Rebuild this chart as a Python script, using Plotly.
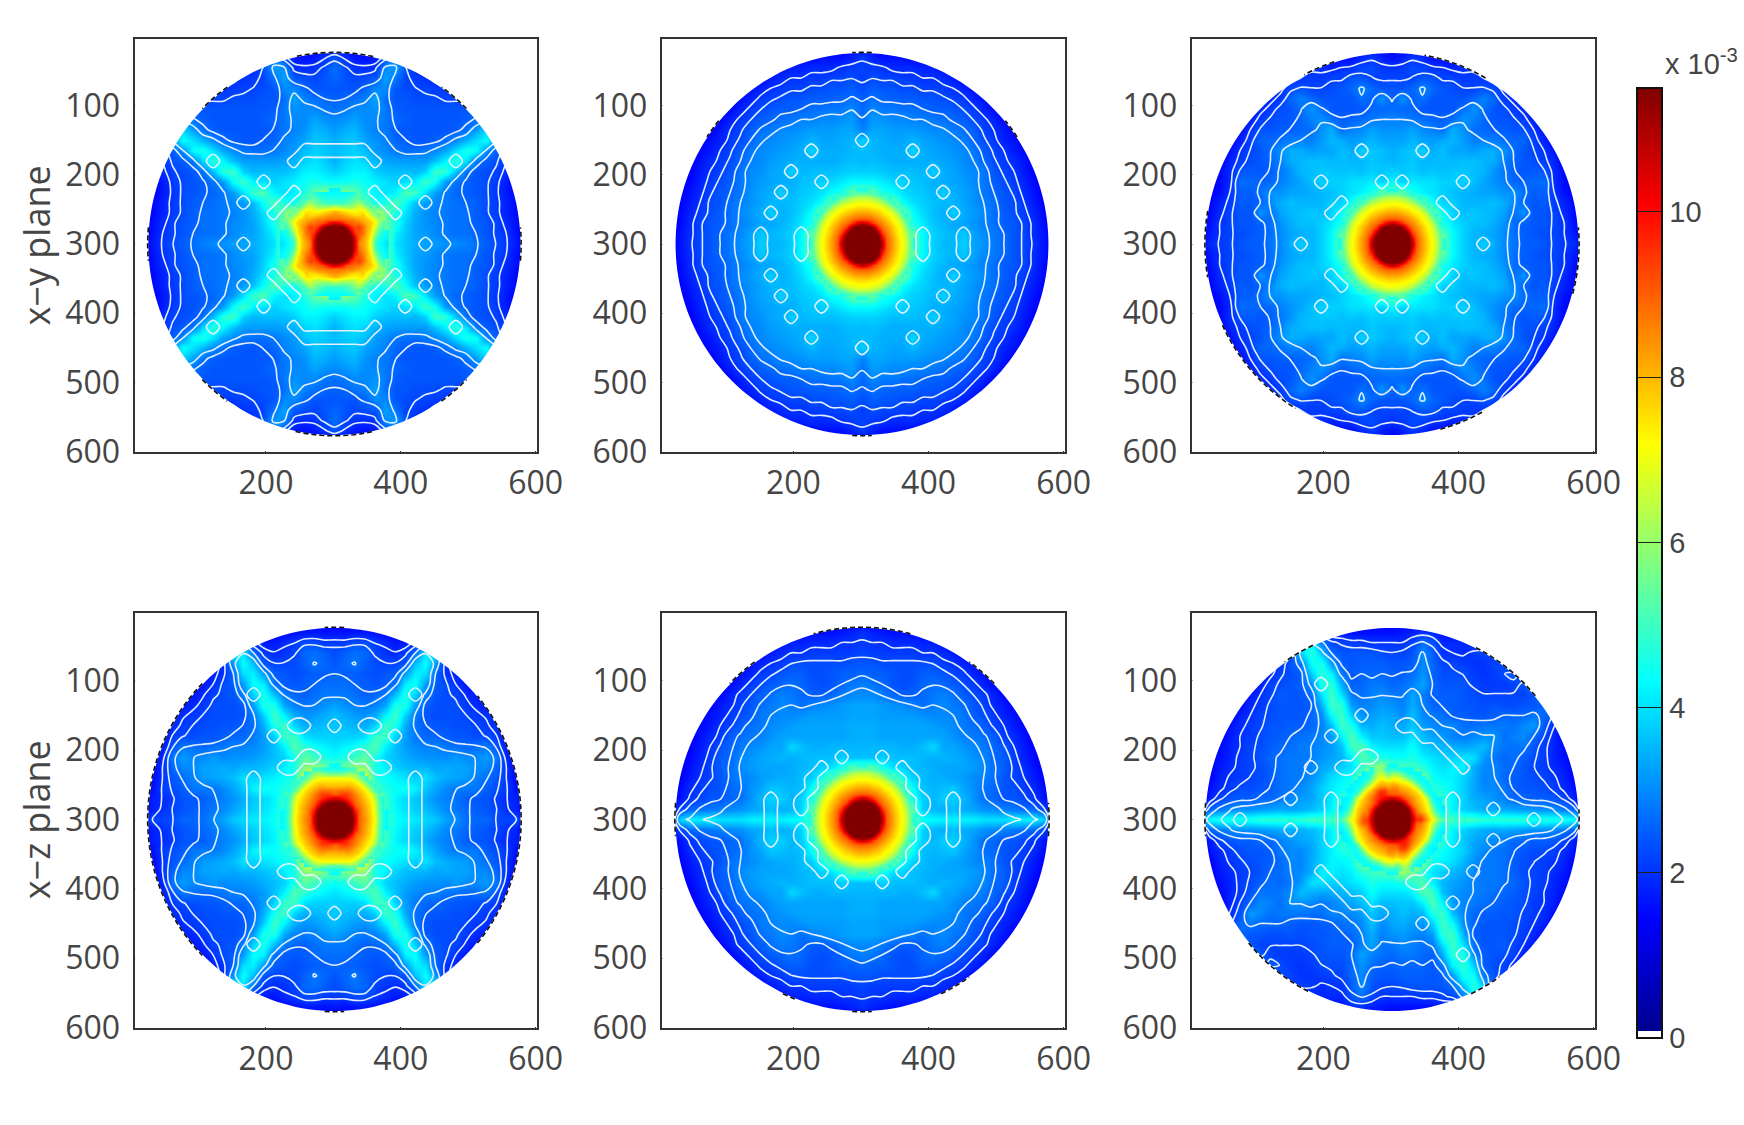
import plotly.graph_objects as go
import numpy as np
import math

# Values are in units of 1e-4, read on a 15-unit grid from the disc centre outwards (j=row, k=column).
# Each table holds a quadrant; rows stop once they are outside the disc.
xy_a = [
[118,118,105,80,74,56,40,37,34,33,32,31,30,29,27,25,23,21,17,14],
[118,118,100,82,72,58,42,37,33,32,30,28,27,27,26,24,22,20,16,14],
[105,100,95,80,72,54,46,38,33,31,30,28,27,27,25,24,22,19,16,14],
[80,82,80,80,66,56,46,40,34,31,29,28,27,27,25,23,21,18,15,14],
[74,72,70,55,44,46,52,44,36,32,30,28,27,26,25,23,21,18,15,14],
[56,58,54,46,42,40,42,52,50,40,32,28,26,25,24,23,20,17,14,14],
[44,44,46,44,42,40,38,40,42,50,44,32,27,25,24,23,21,17,14,14],
[38,40,42,42,38,36,36,36,35,38,50,48,36,27,24,23,22,19,14,14],
[34,38,40,38,35,33,32,32,32,32,36,42,48,40,28,25,23,20,15,14],
[36,37,38,36,32,30,28,27,27,28,30,33,40,46,44,30,25,21,16,14],
[34,36,37,33,31,29,26,25,24,24,25,27,30,35,40,44,32,24,17,14],
[32,34,35,31,29,28,25,24,24,24,24,24,25,27,32,38,42,36,20,14],
[30,31,33,30,30,28,26,25,24,24,24,24,24,25,27,30,34,36,24,14],
[27,28,30,30,31,28,25,24,24,24,24,24,24,24,24,25,26,24,18,14],
[25,26,27,29,33,27,24,24,23,23,23,22,22,22,22,21,20,17,14],
[24,24,24,26,30,30,24,23,22,22,21,21,20,20,19,17,14],
[26,24,22,23,24,33,28,22,21,20,19,18,17,16,14],
[27,23,20,19,20,30,32,24,19,17,16,15,14],
[24,20,17,16,17,24,30,24,16,14],
[15,14],
]
xy_b = [
[118,118,105,84,76,56,43,38,35,35,38,33,31,28,26,24,22,20,16,14],
[118,118,100,82,74,54,43,38,36,35,37,33,30,28,26,24,22,19,16,14],
[105,100,90,80,70,46,41,37,35,33,33,31,29,27,25,24,22,19,15,14],
[84,82,80,76,58,44,39,36,34,38,34,32,30,27,25,23,21,18,15,14],
[76,74,70,58,44,40,38,36,35,35,33,31,29,27,24,23,20,17,14,14],
[56,54,46,44,40,38,37,35,38,34,33,31,28,26,24,22,19,16,14,14],
[43,43,41,39,38,37,36,34,34,33,32,30,28,25,23,21,18,15,14,14],
[38,38,37,36,36,36,35,38,34,33,31,30,28,24,22,20,17,14,14,14],
[35,36,35,34,34,34,34,34,33,32,30,29,26,23,21,19,16,14],
[36,35,34,34,34,39,34,33,32,31,30,28,25,22,20,17,15,14],
[38,35,34,33,33,35,33,32,31,30,29,26,23,21,18,16,14],
[29,33,33,32,32,32,31,30,30,28,27,25,22,20,17,14],
[27,32,31,30,30,29,29,28,27,26,25,23,21,18,15,14],
[26,30,28,28,27,27,26,25,25,24,23,21,18,15,14],
[25,27,26,25,25,25,24,24,23,22,21,18,16,14],
[23,25,24,24,23,23,22,22,21,20,18,16,14],
[21,23,22,22,21,21,20,20,19,17,15,14],
[22,21,20,19,19,19,18,18,16,15,14],
[21,18,16,16,16,15,15,14],
[14],
]
xy_c = [
[118,118,105,86,76,56,43,38,35,38,34,30,28,25,25,24,22,21,19,14],
[118,118,102,84,74,54,43,38,35,34,33,30,27,25,24,23,22,20,17,14],
[105,102,92,80,70,46,41,38,36,36,34,31,27,25,24,24,22,20,16,14],
[86,84,80,76,58,44,38,36,37,36,35,33,27,31,24,24,22,19,15,14],
[76,74,70,58,44,38,38,35,35,35,36,34,30,26,24,25,21,18,15,14],
[56,54,46,42,40,38,36,35,34,33,33,31,31,27,25,25,20,16,14,14],
[43,38,41,40,40,38,38,38,36,33,31,29,26,26,26,27,19,15,14,14],
[38,37,38,36,37,36,37,37,36,35,31,28,25,24,25,24,19,15,14,14],
[35,36,37,35,35,36,35,36,36,35,34,29,26,24,23,21,18,14],
[34,36,37,38,34,36,33,33,32,34,34,31,27,24,22,20,16,14],
[33,33,35,33,32,34,35,32,29,29,29,27,26,26,22,18,14],
[31,31,33,30,29,27,34,31,27,26,25,25,24,24,20,16,14],
[29,29,28,27,26,25,27,31,29,26,24,24,23,21,18,14],
[27,26,26,24,24,24,24,27,31,27,24,23,21,19,14],
[25,31,25,27,24,24,24,24,26,29,26,21,19,16,14],
[24,24,26,30,26,24,23,22,22,24,23,19,16,14],
[22,22,22,24,24,22,22,21,21,20,18,15,14],
[20,21,23,22,20,20,18,19,21,17,15,14],
[16,18,21,19,16,15,15,17,16,14],
[14],
]
xz_a = [
[118,118,105,80,72,52,44,42,41,39,37,33,30,27,26,26,23,22,23,14],
[118,118,102,80,70,50,43,40,38,36,33,30,28,26,25,24,22,20,18,14],
[105,102,92,82,70,50,42,39,37,34,31,29,27,25,24,24,21,19,18,14],
[82,86,92,78,52,46,44,44,42,37,33,30,28,28,28,25,23,21,16,14],
[74,76,78,70,46,44,42,40,38,40,36,34,33,32,29,27,24,20,15,14],
[54,56,60,58,46,42,38,36,35,35,33,34,33,33,30,30,26,20,14,14],
[44,46,50,54,46,38,36,34,32,31,31,30,32,30,30,32,28,19,14,14],
[40,42,44,48,52,42,36,32,30,29,29,28,27,26,27,28,24,17,14,14],
[38,38,38,40,50,50,38,32,28,26,26,25,24,24,23,23,21,15,14,14],
[37,36,35,34,38,50,46,34,27,25,24,24,23,23,22,21,19,14],
[36,34,32,31,34,42,50,38,28,24,23,23,23,22,21,20,17,14],
[33,31,29,28,29,33,46,46,32,25,23,23,23,21,19,17,14],
[28,28,27,25,26,28,36,46,38,29,24,23,22,19,17,15,14],
[27,27,26,25,24,25,27,42,44,32,25,23,20,17,15,14],
[26,25,25,24,23,24,25,32,42,40,26,20,18,15,14],
[24,26,28,25,23,22,22,24,36,44,32,19,16,14],
[23,25,27,26,22,20,19,21,26,40,42,24,14],
[21,21,23,23,21,19,17,17,20,30,38,30,14],
[17,16,17,17,16,15,14,14,16,22,28,20,14],
[14],
]
xz_b = [
[118,118,105,84,76,56,44,43,42,42,42,42,40,40,40,42,42,42,38,14],
[118,118,100,82,74,54,38,35,34,36,34,33,31,30,29,28,27,26,22,14],
[105,100,90,80,70,46,38,35,38,38,35,31,27,26,24,24,22,20,16,14],
[84,82,80,76,58,44,36,35,36,37,33,31,27,26,24,23,21,19,15,14],
[76,74,70,58,44,38,36,34,34,33,32,30,29,27,24,22,20,17,14,14],
[56,54,46,40,38,36,35,34,33,33,33,32,30,27,25,22,19,16,14,14],
[36,36,38,36,36,36,35,34,35,34,33,31,30,26,25,21,18,15,14,14],
[35,35,35,35,34,34,36,39,33,33,31,30,28,26,24,20,17,14,14,14],
[34,34,33,33,33,33,33,33,33,31,29,28,27,25,21,19,16,14],
[34,34,33,33,33,33,33,32,31,30,28,27,25,22,20,17,15,14],
[33,33,32,32,32,32,31,30,30,29,28,25,23,21,18,16,14],
[33,33,32,31,30,29,27,29,30,28,27,24,22,19,17,14],
[30,30,28,26,25,25,26,28,29,27,25,23,21,18,15,14],
[29,28,26,24,23,24,26,27,26,25,23,21,18,15,14],
[26,25,25,24,23,23,25,25,24,22,21,18,16,14],
[24,24,23,23,23,23,23,23,21,20,18,16,14],
[22,21,21,21,21,21,20,20,19,17,15,14],
[21,20,20,19,19,19,18,18,16,15,14],
[20,18,17,16,16,15,15,14],
[14],
]
xz_c_right = [
[118,118,100,90,72,54,50,50,50,48,48,48,48,48,46,46,46,46,44,30],
[118,118,100,86,70,52,42,38,36,34,34,34,33,32,31,31,30,28,26,14],
[105,100,92,80,62,48,42,38,34,33,31,29,26,26,25,25,24,22,17,14],
[86,84,80,70,48,46,42,38,33,30,30,28,25,24,24,23,21,19,16,14],
[72,74,68,58,44,42,42,38,34,29,30,26,25,24,23,22,20,18,14,14],
[54,52,50,48,42,40,42,42,34,30,29,27,26,24,22,21,19,17,14,14],
[44,44,46,42,40,38,38,40,40,32,28,26,27,25,23,21,18,16,14,14],
[40,40,44,38,36,35,34,33,34,36,30,28,27,28,24,21,18,15,14,14],
[36,36,40,36,33,32,29,28,30,31,31,27,29,30,26,22,18,14,14,14],
[34,33,37,32,30,29,30,27,27,28,28,28,27,30,32,24,19,14],
[33,30,36,30,28,27,25,25,24,24,25,26,26,26,28,26,22,24,14],
[31,29,34,29,26,25,25,24,24,23,24,23,23,24,24,26,28,14],
[28,28,33,29,25,25,25,24,23,22,22,22,22,22,24,28,20,14],
[26,27,29,33,26,24,24,24,22,21,21,21,22,24,26,18,14],
[25,25,27,31,26,23,23,23,21,20,21,23,25,22,14],
[24,24,25,30,26,22,22,21,20,20,22,23,18,14],
[22,22,24,30,25,20,20,19,21,22,20,16,14],
[20,20,22,27,24,19,19,19,18,17,15,14],
[16,17,18,20,19,16,15,14],
[14],
]
xz_c_left = [
[118,118,105,90,74,56,50,50,50,48,48,48,48,48,46,46,46,46,44,30],
[118,118,102,86,72,52,42,38,36,34,33,34,33,32,31,31,30,28,26,14],
[105,102,92,82,64,48,41,37,33,32,30,28,26,26,25,25,24,22,17,14],
[88,92,82,72,48,44,41,38,33,30,28,27,25,24,23,23,21,19,16,14],
[74,76,70,60,44,42,40,35,31,28,28,27,25,23,22,21,20,18,14,14],
[56,62,56,48,40,38,35,33,30,28,28,27,25,23,22,21,19,17,14,14],
[44,46,48,52,42,35,33,31,29,28,28,27,26,24,22,21,18,16,14,14],
[40,40,42,52,50,36,32,30,29,28,27,26,25,23,22,20,18,15,14,14],
[38,37,37,42,52,42,32,30,28,27,26,25,24,23,21,20,17,14,14,14],
[38,36,34,35,46,50,36,29,26,25,25,24,24,22,21,19,16,14],
[36,34,32,31,38,50,44,30,26,24,24,24,23,22,20,18,14],
[33,32,30,29,32,48,50,34,25,24,24,24,23,21,19,15,14],
[30,30,29,27,28,40,50,40,27,24,24,25,22,20,17,14],
[28,28,28,26,25,34,48,46,30,25,24,23,22,18,14],
[27,26,26,26,24,28,42,48,38,25,23,22,19,15,14],
[26,25,25,25,24,25,32,46,44,28,24,21,16,14],
[24,23,24,24,24,24,26,36,48,38,22,18,14],
[21,20,20,21,21,22,22,28,42,40,22,14],
[17,16,16,16,16,17,17,20,28,30,14],
[14],
]

# Finer readings of the central spot, on a 6-unit grid (rows stop outside radius 78).
core_round = [
[118,118,118,118,118,108,91,85,80,75,71,65,55,46],
[118,118,118,118,118,105,90,85,80,75,71,65,55,46],
[118,118,118,118,117,99,89,84,79,74,70,64,53],
[118,118,118,118,108,92,87,82,77,73,69,62,52],
[118,118,117,108,94,88,84,80,76,72,67,58,49],
[108,105,99,92,88,85,81,77,73,70,64,54,46],
[91,90,89,87,84,81,78,74,71,67,58,50],
[85,85,84,82,80,77,74,72,68,62,53,46],
[80,80,79,77,76,73,71,68,63,55,48],
[75,75,74,73,72,70,67,62,55,49],
[71,71,70,69,67,64,58,53,48],
[65,65,64,62,58,54,50,46],
[55,55,53,52,49,46],
[46,46],
]
core_xy_a = [
[118,118,118,118,118,104,86,82,78,68,50,45,42,40],
[118,118,118,118,118,104,88,83,78,70,52,46,43,41],
[118,118,118,118,117,100,90,85,80,72,56,48,44,42],
[118,118,118,118,108,94,92,88,80,75,62,52,46,43],
[118,118,117,108,96,92,94,88,82,76,68,56,50],
[106,104,98,92,90,88,88,84,80,78,72,62,52],
[88,88,88,86,86,84,82,80,78,74,68,60],
[84,84,82,80,78,76,76,78,72,66,60,54],
[80,78,76,74,72,72,74,74,68,60,54],
[66,64,62,62,62,64,68,66,58,52],
[50,50,50,52,54,58,62,56,50],
[46,46,46,48,50,54,52,48],
[44,44,44,44,46,48],
[42,42],
]
core_xz_a = [
[118,118,118,118,118,106,90,86,82,76,70,56,46,43],
[118,118,118,118,118,104,90,85,81,76,70,56,46,43],
[118,118,118,118,117,100,90,84,80,75,68,54,46,43],
[118,118,118,118,108,94,88,84,80,75,68,54,46],
[118,118,117,108,98,90,86,82,78,74,66,54,46],
[106,104,100,96,92,88,84,80,76,72,64,52,46],
[90,92,94,94,90,86,82,78,74,70,60,50],
[86,88,88,88,86,82,78,76,70,60,52,46],
[80,80,80,82,80,78,76,70,62,54,48],
[76,76,76,76,76,74,68,62,54,48],
[72,72,72,72,70,66,60,54,48],
[54,54,56,58,60,58,52,46],
[46,46,46,48,50,50],
[43,44],
]
core_xz_c_right = [
[118,118,118,118,118,108,96,96,88,80,72,62,56,52],
[118,118,118,118,118,104,92,90,84,76,66,56,48,44],
[118,118,118,118,117,99,88,82,78,72,60,50,44,42],
[118,118,118,118,108,92,85,80,76,70,56,46,42,40],
[118,118,117,108,94,86,82,78,74,66,50,44,42],
[108,105,99,92,88,85,80,76,72,60,46,42,42],
[91,90,89,87,84,80,78,74,62,48,44,44],
[88,88,84,82,80,78,74,64,50,44,46,46],
[84,84,80,78,76,72,64,52,46,44,46],
[78,76,74,72,70,60,52,46,44,44],
[72,70,68,62,56,50,46,44,44],
[60,58,56,50,46,44,44,44],
[48,48,46,44,44,44],
[44,44],
]
core_xz_c_left = [
[118,118,118,118,118,106,94,92,84,76,72,62,54,50],
[118,118,118,118,118,104,90,88,82,75,66,56,48,44],
[118,118,118,118,117,99,88,84,80,74,60,50,44,42],
[118,118,118,118,108,92,86,82,78,72,56,46,42,40],
[118,118,117,110,96,88,84,80,76,66,50,44,42],
[108,106,102,98,94,88,82,78,72,60,46,42,42],
[90,92,96,98,92,84,80,74,60,48,44,44],
[86,88,94,94,88,80,74,62,50,44,42,42],
[82,82,84,84,80,72,62,52,46,44,42],
[76,76,78,78,74,62,52,46,44,42],
[66,66,70,72,66,54,46,44,42],
[52,54,60,66,60,48,44,42],
[46,48,52,60,58,46],
[44,46],
]

# Small closed contour loops, as (row, column) cells of the 15-unit grid.
loops_xy_a = [(0,9),(4,9),(6,7),(5,4),(4,5),(3,6),(8,12),(9,0),(9,1),(9,2),(9,3),(8,4)]
loops_xy_b = [(0,6),(1,6),(0,10),(1,10),(6,4),(5,8),(9,5),(10,0),(3,9),(7,7)]
loops_xy_c = [(0,9),(3,6),(4,5),(6,7),(6,1),(9,3)]
loops_xz_a = [(9,0),(9,3),(9,4),(8,6),(6,2),(6,3),(5,4),(5,5),(12,8),(4,8),(3,8),(2,8),(1,8),(0,8)]
loops_xz_b = [(1,6),(2,6),(3,5),(4,5),(5,4),(6,2),(0,9),(1,9),(2,9)]
loops_xz_c_right = [(0,6),(1,6),(2,6),(1,10),(9,1),(9,2),(8,3),(8,4),(7,5),(6,6),(5,7),(0,14)]
loops_xz_c_left = [(0,6),(1,6),(2,6),(2,10),(5,8),(8,6),(10,3),(5,5),(5,4),(6,3),(6,2),(13,7),(0,15)]

x_ticks = [200, 400, 600]
y_ticks = [100, 200, 300, 400, 500, 600]
contour_levels = [2.0, 2.25, 2.6, 2.9]
cbar_ticks = [0, 2, 4, 6, 8, 10]
row_titles = ["x\u2212y plane", "x\u2212z plane"]

# black edge fragments, degrees (start, end) counter-clockwise from +x
edge_arcs = [
    [(78,102),(258,282),(175,185),(-5,5),(125,135),(45,55),(225,235),(305,315)],
    [(87,93),(267,273),(140,146),(34,40)],
    [(-15,5),(170,190),(60,80),(205,240),(285,300),(108,118)],
    [(87,93),(267,273),(135,225),(-40,40)],
    [(75,105),(175,185),(-5,5),(267,273),(125,135),(245,250),(295,305),(45,55)],
    [(40,65),(220,245),(175,185),(-3,3),(115,125),(295,305)],
]

PW, PH = 1744, 1125
col_px = [(134.5, 537), (661.7, 1065), (1191.7, 1595)]
row_px = [(38.5, 451.7), (613.3, 1027.7)]
CX, CY, STEP, R = 301.5, 300, 15, 276
CORE_STEP = 6
X_RANGE, Y_RANGE = [5, 602], [600, 3]
GRAY = "#454545"
TICK_FONT = dict(family="Open Sans", size=32, color=GRAY)

def scaled(table, n, fill):
    return [[v / 10 for v in row] + [fill] * (n - len(row)) for row in table]

def mirror(t):
    rows = [r[:0:-1] + r for r in t]
    return rows[:0:-1] + rows

def rotate(r, l):
    top = [l[j][:0:-1] + r[j] for j in range(len(r))]
    return top[:0:-1] + [top[0]] + [row[::-1] for row in top[1:]]

def cells(loop, n=20):
    t = [[0.0] * n for _ in range(n)]
    for j, k in loop:
        t[j][k] = 1.0
    return t

def ring_field(z):
    # contour field with the narrow spokes damped, so that the rings cross them with only a bump
    a = np.array(z, dtype=float)
    p = np.pad(a, 2, mode="edge")
    med = np.median(np.lib.stride_tricks.sliding_window_view(p, (5, 5)), axis=(2, 3))
    return (0.6 * med + 0.4 * np.minimum(a, 3.3)).tolist()

panels = [mirror(scaled(xy_a, 20, 1.4)), mirror(scaled(xy_b, 20, 1.4)), mirror(scaled(xy_c, 20, 1.4)),
          mirror(scaled(xz_a, 20, 1.4)), mirror(scaled(xz_b, 20, 1.4)),
          rotate(scaled(xz_c_right, 20, 1.4), scaled(xz_c_left, 20, 1.4))]
cores = [mirror(scaled(core_xy_a, 14, None)), mirror(scaled(core_round, 14, None)), mirror(scaled(core_round, 14, None)),
         mirror(scaled(core_xz_a, 14, None)), mirror(scaled(core_round, 14, None)),
         rotate(scaled(core_xz_c_right, 14, None), scaled(core_xz_c_left, 14, None))]
loops = [mirror(cells(loops_xy_a)), mirror(cells(loops_xy_b)), mirror(cells(loops_xy_c)),
         mirror(cells(loops_xz_a)), mirror(cells(loops_xz_b)),
         rotate(cells(loops_xz_c_right), cells(loops_xz_c_left))]
gx = [CX + STEP * i for i in range(-19, 20)]
gy = [CY + STEP * i for i in range(-19, 20)]
cx = [CX + CORE_STEP * i for i in range(-13, 14)]
cy = [CY + CORE_STEP * i for i in range(-13, 14)]

jet = [(0, "rgb(255,255,255)"), (0.007, "rgb(255,255,255)"), (0.0071, "rgb(0,0,143)"),
       (0.125, "rgb(0,0,255)"), (0.375, "rgb(0,255,255)"), (0.625, "rgb(255,255,0)"),
       (0.875, "rgb(255,0,0)"), (1, "rgb(128,0,0)")]
LINE = dict(color="rgba(232,242,255,0.97)", width=1.6)

fig = go.Figure()
layout = {}
shapes, annotations = [], []
for n, z in enumerate(panels):
    r, c = divmod(n, 3)
    ax = "" if n == 0 else str(n + 1)
    xa, ya = "x" + ax, "y" + ax
    x0, x1 = col_px[c]
    y0, y1 = row_px[r]
    layout["xaxis" + ax] = dict(domain=[x0 / PW, x1 / PW], range=X_RANGE, anchor=ya,
        tickvals=x_ticks, ticks="inside", ticklen=3, tickcolor="#333", showgrid=False, zeroline=False,
        showline=True, mirror=True, linecolor="#333", linewidth=2, tickfont=TICK_FONT, ticklabelstandoff=2)
    layout["yaxis" + ax] = dict(domain=[1 - y1 / PH, 1 - y0 / PH], range=Y_RANGE, anchor=xa,
        tickvals=y_ticks, ticks="inside", ticklen=3, tickcolor="#333", showgrid=False, zeroline=False,
        showline=True, mirror=True, linecolor="#333", linewidth=2, tickfont=TICK_FONT, ticklabelstandoff=6)
    fig.add_trace(go.Heatmap(z=z, x=gx, y=gy, xaxis=xa, yaxis=ya, coloraxis="coloraxis", zsmooth="best",
                             hoverinfo="skip"))
    fig.add_trace(go.Heatmap(z=cores[n], x=cx, y=cy, xaxis=xa, yaxis=ya, coloraxis="coloraxis", zsmooth="best",
                             hoverinfo="skip"))
    zr = ring_field(z)
    for lv in contour_levels:
        fig.add_trace(go.Contour(z=zr, x=gx, y=gy, xaxis=xa, yaxis=ya, showscale=False, autocontour=False,
                                 contours=dict(start=lv, end=lv, size=1, coloring="none"),
                                 line=LINE, hoverinfo="skip"))
    fig.add_trace(go.Contour(z=loops[n], x=gx, y=gy, xaxis=xa, yaxis=ya, showscale=False, autocontour=False,
                             contours=dict(start=0.35, end=0.35, size=1, coloring="none"),
                             line=LINE, hoverinfo="skip"))
    # white surround leaving a circular opening
    ring = " L ".join(f"{CX + R * math.cos(math.radians(a)):.1f} {CY + R * math.sin(math.radians(a)):.1f}"
                      for a in range(0, 360, 2))
    hole = (f"M {X_RANGE[0]+1} {Y_RANGE[1]+1} L {X_RANGE[1]-1} {Y_RANGE[1]+1} L {X_RANGE[1]-1} {Y_RANGE[0]-1} "
            f"L {X_RANGE[0]+1} {Y_RANGE[0]-1} Z M {ring} Z")
    shapes.append(dict(type="path", path=hole, xref=xa, yref=ya, fillcolor="white", line_width=0, layer="above",
                       fillrule="evenodd"))
    for a0, a1 in edge_arcs[n]:
        pts = [(CX + (R + 1) * math.cos(math.radians(a)), CY - (R + 1) * math.sin(math.radians(a)))
               for a in range(a0, a1 + 1, 2)]
        p = "M " + " L ".join(f"{px:.1f} {py:.1f}" for px, py in pts)
        shapes.append(dict(type="path", path=p, xref=xa, yref=ya, line=dict(color="#111", width=1.6, dash="5px,3px"),
                           layer="above"))
    if c == 0:
        annotations.append(dict(text=row_titles[r], x=36 / PW, y=1 - (y0 + 207) / PH, xref="paper", yref="paper",
                                xanchor="center", yanchor="middle", textangle=-90, showarrow=False,
                                font=dict(family="Open Sans", size=36, color=GRAY)))

annotations.append(dict(text="x 10<sup>-3</sup>", x=1663 / PW, y=1 - 62 / PH, xref="paper", yref="paper",
                        xanchor="left", yanchor="middle", showarrow=False,
                        font=dict(family="Liberation Sans", size=29, color=GRAY)))

fig.update_layout(
    width=PW, height=PH, margin=dict(l=0, r=0, t=0, b=0, autoexpand=False), paper_bgcolor="white",
    plot_bgcolor="white", showlegend=False, shapes=shapes, annotations=annotations,
    coloraxis=dict(cmin=0, cmax=11.5, colorscale=jet, colorbar=dict(
        x=1637 / PW, xanchor="left", xpad=0, ypad=0, y=1 - 1038 / PH, yanchor="bottom",
        lenmode="pixels", len=950, thicknessmode="pixels", thickness=25, outlinecolor="#111", outlinewidth=2,
        tickvals=cbar_ticks, ticks="inside", ticklen=25, tickcolor="#222", tickwidth=1,
        tickfont=dict(family="Liberation Sans", size=29, color=GRAY))),
    **layout)
fig.write_html("out.html", config={"displayModeBar": False},
               post_script="document.body.style.margin='0';")
